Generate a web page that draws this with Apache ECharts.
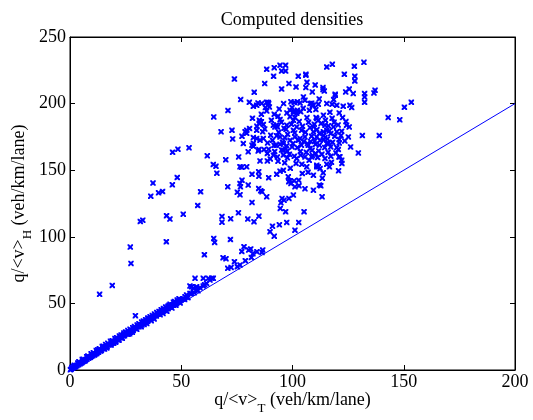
<!DOCTYPE html>
<html>
<head>
<meta charset="utf-8">
<script src="https://cdn.jsdelivr.net/npm/echarts@6/dist/echarts.min.js"></script>
<style>html,body{margin:0;padding:0;background:#fff;}#c{width:533px;height:420px;}</style>
</head>
<body>
<div id="c"></div>
<script>
// ---- data ----
const xTicks = [0, 50, 100, 150, 200];
const yTicks = [0, 50, 100, 150, 200, 250];
const refLineX = [0, 200];
const refLineY = [0, 200];

// dense band close to the diagonal (x < ~65)
const bandPoints = [
[0.2,0.2],[0.5,0.6],[1.2,1.3],[1.8,2.1],[2.2,2.3],[2.5,2.7],[3.1,3.5],[3.8,4.0],[4.4,4.9],[5.0,5.3],[5.4,5.6],[5.7,6.2],[6.3,6.6],[7.0,7.6],[7.6,8.0],[8.3,8.9],[8.9,9.3],[9.2,9.5],[9.6,10.3],[10.2,10.7],[10.9,11.7],[11.5,12.0],[12.2,13.1],[12.8,13.4],[13.5,14.5],[13.8,14.2],[14.1,14.8],[14.8,15.9],[15.4,16.1],[16.1,17.2],[16.7,17.5],[17.4,18.7],[18.0,18.9],[18.7,20.0],[19.3,20.2],[19.6,20.1],[20.0,21.4],[20.6,21.6],[21.3,22.8],[21.9,22.9],[22.6,24.2],[23.2,24.3],[23.9,25.6],[24.0,26.5],[24.5,25.7],[25.2,27.0],[25.8,27.0],[26.1,26.8],[26.5,28.4],[27.1,28.4],[27.8,29.8],[28.4,29.7],[29.1,31.2],[29.7,31.1],[30.4,32.6],[31.0,32.5],[31.7,34.0],[32.3,33.8],[33.0,35.4],[33.3,34.1],[33.6,35.2],[34.3,36.8],[34.9,36.6],[35.0,38.5],[35.6,38.2],[36.2,37.9],[36.9,39.5],[37.5,39.3],[38.2,40.9],[38.8,40.6],[39.5,42.3],[40.1,42.0],[40.5,41.4],[40.8,43.6],[41.4,43.3],[42.1,45.0],[42.7,44.7],[43.4,46.3],[44.0,46.0],[44.0,47.8],[44.7,47.6],[45.3,47.3],[46.0,48.9],[46.6,48.7],[47.3,50.2],[47.6,48.6],[47.9,50.0],[48.6,51.5],[49.2,51.3],[50.0,52.8],
[1.5,2.8],[3.5,5.2],[6.0,8.0],[8.0,10.5],[10.5,13.0],[12.5,15.2],[15.0,17.8],[17.0,20.0],[19.0,22.0],[21.0,24.2],[23.0,26.3],[25.0,28.5],[27.0,30.5],[29.0,32.6],[31.0,34.7],[33.0,36.8],[35.0,39.0],[37.0,41.0],[39.0,43.2],[41.0,45.2],[43.0,47.3],[45.0,49.4],[47.0,51.5],[49.0,53.5],
[2.0,3.6],[4.0,6.2],[5.5,7.8],[7.5,10.0],[9.5,12.2],[11.8,14.6],[13.2,16.0],[14.5,17.6],[16.0,19.2],[18.2,21.5],[20.2,23.6],[22.2,25.6],[24.2,27.8],[26.0,29.6],[28.2,31.8],[30.2,33.8],[32.2,36.0],[34.0,37.8],[36.0,39.9],[38.0,42.0],[40.0,44.0],[42.0,46.2],[44.5,48.6],[46.5,50.8],[48.2,52.5],
[0.8,1.8],[3.0,3.1],[4.5,4.6],[6.8,7.0],[9.0,9.6],[11.0,11.2],[12.0,12.3],[15.5,15.7],[16.5,16.6],[18.5,18.8],[20.5,20.8],[22.0,22.3],[23.5,23.9],[26.8,27.2],[28.0,28.4],[30.0,30.5],[32.0,32.5],[34.5,35.0],[36.5,37.0],[37.8,38.3],[41.8,42.4],[43.5,44.1],[45.8,46.5],[49.5,50.3],
[49.4,52.5],[51.7,55.0],[52.4,56.3],[53.9,57.5],[55.4,61.3],[56.9,62.5],[58.4,61.8],[59.9,63.0],[61.4,65.0],[62.9,67.5],[64.4,68.8],[62.2,68.8],[63.7,68.8],[56.2,68.8],[59.9,68.8],[53.9,63.0],[54.7,62.5],[56.9,60.0],[60.5,64.0],[57.5,59.5],[52.8,54.5],[51.0,53.5],[51.5,53.0],[53.0,54.5],[54.5,57.5],[55.8,58.0]
];

// points between the band and the main cloud
const lowerPoints = [
[68.8,84.3],[70.1,83.5],[73.9,81.3],[70.9,76.3],[72.4,77.0],[75.2,77.5],[76.4,78.8],[78.8,82.0],[78.2,92.5],[80.3,90.0],[81.2,90.8],[77.2,89.0],[82.2,87.3],[81.5,84.5],[84.0,88.8],[86.6,90.0],[86.3,88.3],
[91.0,108.0],[94.1,109.0],[97.4,110.8],[102.8,110.8],[89.9,103.8],[91.8,100.5],[101.1,105.0],[79.9,113.3],[82.7,111.3],[84.9,115.5],[81.8,125.8],[68.3,115.3],[68.3,111.0],[72.2,113.5],[75.7,118.0],[72.1,98.0],[64.6,98.8],[65.0,95.8],[60.4,86.5],
[70.9,137.5],[75.2,133.5],[76.6,137.5],[76.4,131.5],[77.3,142.5],[80.1,138.8],[76.4,140.0],
[84.8,136.3],[85.7,134.5],[86.3,133.8],[88.4,130.0],[95.3,128.8],[96.2,127.5],[98.4,128.8],[100.4,131.3],[113.3,130.0],[105.2,118.8],[94.5,121.3],[94.8,125.5],[96.9,118.8]
];

// main cloud
const clusterPoints = [
[83.9,198.8],[89.1,200.8],[89.6,197.5],[99.3,201.3],[100.8,200.8],[102.2,201.3],[103.4,200.5],[105.6,202.5],[107.9,200.0],[109.4,198.8],[111.6,199.5],[115.4,200.0],[117.8,199.5],[119.9,198.8],[122.8,198.0],[125.8,198.8],[126.6,197.0],[98.9,195.0],[100.4,193.8],[102.2,195.0],[103.7,193.8],[107.6,195.0],[108.9,198.8],
[85.1,187.5],[86.0,186.3],[85.1,185.0],[86.9,184.3],[94.4,188.0],[100.4,187.5],[101.1,189.5],[106.5,189.5],[110.6,189.5],[110.9,188.8],[114.8,187.5],[118.7,186.0],[122.5,189.5],[113.9,191.3],[111.6,187.5],[97.4,183.8],[101.9,182.5],[107.9,182.0],[109.4,182.5],[114.6,183.8],[116.1,183.3],[118.4,182.5],[124.3,183.8],[125.5,182.5],
[78.7,178.8],[79.4,180.0],[80.7,181.3],[83.9,180.0],[86.6,178.8],[91.4,183.8],[92.1,182.5],[93.2,182.5],[97.1,180.8],[100.4,180.0],[104.1,180.0],[109.4,178.8],[113.9,178.8],[115.4,180.0],[117.2,177.5],[119.9,178.8],[122.1,179.3],[112.1,177.5],[77.3,175.5],[82.4,174.5],[83.9,173.8],[85.4,172.5],[86.9,173.8],[90.2,176.3],[92.9,175.8],[94.4,175.0],[96.6,174.3],[98.9,172.5],[101.1,175.0],[102.6,172.5],[103.4,173.8],[105.6,175.0],[108.6,175.5],[110.9,175.0],[112.4,172.5],[114.6,174.5],[115.7,173.5],[125.1,175.0],[121.0,173.0],
[77.9,170.0],[81.8,168.8],[82.4,168.0],[84.9,165.5],[87.2,165.5],[89.3,165.8],[91.7,168.8],[92.6,168.8],[94.4,169.5],[95.9,170.0],[97.4,168.3],[99.8,167.5],[102.2,167.0],[104.0,168.8],[106.7,170.0],[107.1,168.8],[107.9,166.3],[108.8,165.0],[110.4,169.5],[112.1,168.8],[115.4,170.0],[117.2,167.5],[119.9,167.0],[121.0,170.5],[126.1,167.5],[120.6,165.5],
[80.1,163.8],[84.6,164.5],[88.7,162.5],[91.4,161.3],[93.2,160.0],[95.9,165.0],[97.7,164.3],[101.9,158.8],[103.7,161.3],[105.6,160.0],[108.6,160.0],[110.3,162.5],[111.3,159.5],[114.6,158.8],[117.2,160.5],[120.9,160.0],[122.1,157.5],[122.2,155.0],[85.4,157.0],[88.7,157.0],[93.5,156.8],[97.7,159.3],[101.6,155.0],[106.4,152.5],[110.9,153.8],[111.6,152.5],[115.4,154.5],[116.6,152.5],[112.4,151.3],[120.7,149.5],
[79.4,152.5],[81.8,147.0],[84.8,148.8],[84.9,145.5],[89.3,144.3],[92.9,147.0],[94.4,149.3],[95.9,150.0],[98.1,145.0],[98.9,142.0],[99.3,140.0],[98.3,141.3],[100.7,142.0],[102.8,142.5],[102.9,138.3],[104.4,147.5],[109.4,146.3],[112.1,138.8],[113.4,144.0],[112.7,138.3],[109.4,135.0],[105.6,136.0],[101.1,137.5],
[85.4,186.4],[101.1,193.9],[102.6,172.7],[110.9,152.6],[101.9,192.7],[98.9,190.2],[92.9,183.9],[79.4,177.7],[82.4,170.2],[95.1,165.2],[95.9,161.4],[113.9,172.7],[116.1,170.2],[121.3,160.1],[108.6,200.2],[86.2,200.2],
[93.5,190.5],[95.0,186.0],[96.2,181.5],[97.8,177.0],[99.5,184.5],[101.0,178.0],[103.0,186.5],[104.5,183.0],[105.8,178.5],[107.2,186.0],[108.2,171.5],[109.8,184.5],[111.0,180.5],[112.8,185.0],[114.0,176.0],[116.5,179.5],[117.8,189.0],[119.0,175.5],[120.5,184.0],[121.8,176.0],[123.5,172.0],[124.0,186.5],[93.8,178.5],[95.5,171.0],[97.0,166.0],[98.6,162.0],[100.2,170.0],[100.8,160.5],[103.5,164.0],[105.0,171.5],[106.2,163.5],[107.5,157.5],[109.0,161.0],[110.0,172.0],[111.8,164.5],[113.2,162.0],[114.5,167.0],[116.0,163.5],[118.0,171.0],[119.5,163.0],[87.5,181.0],[88.8,170.5],[90.5,187.5],[91.0,172.5],[92.0,164.0],[90.0,158.5],[96.5,155.5],[99.0,151.5],[104.2,154.5],[107.0,148.5],[113.8,148.0],[117.5,156.0],[97.5,193.0],[104.8,196.5],[110.5,195.5],[116.8,193.5],[121.0,193.0],[99.8,197.0],[96.0,200.0],[112.0,203.5],[118.5,203.0],[94.0,196.0],[91.8,192.0],[86.0,192.0],[84.0,183.0],[82.0,189.0]
];

// sparse outer points
const sparsePoints = [
[132.1,231.0],[117.9,229.5],[115.4,227.5],[127.8,228.0],[94.4,228.8],[96.9,228.8],[95.1,224.5],[96.9,224.5],[91.8,227.0],[88.4,225.8],[91.5,220.5],[73.9,218.5],[106.0,222.0],[106.0,221.3],[102.6,220.5],[98.4,215.0],[106.5,216.0],[110.2,214.0],[123.3,222.0],[128.0,220.5],[128.0,217.0],[87.5,215.0],[82.8,208.5],[95.1,211.0],[101.6,212.5],[106.0,212.0],[113.7,212.0],[114.3,209.5],[113.7,210.5],[108.9,208.8],[104.9,205.0],[125.5,211.0],[123.9,208.8],[127.3,207.5],[119.2,207.0],[119.2,206.3],[132.4,207.5],[132.4,205.0],[132.4,201.0],[137.1,210.0],[136.6,208.0],[76.7,203.0],[80.6,201.0],[84.5,200.5],[82.4,198.0],[88.4,201.0],[89.3,200.0],[87.8,197.0],[88.4,194.5],[153.4,201.0],[150.3,197.3],[143.0,189.5],[148.2,187.8],[139.0,176.0],[131.4,176.0],[129.6,163.0],
[71.0,194.8],[64.6,190.0],[67.9,178.8],[72.8,180.0],[73.1,173.5],[61.7,160.8],[70.0,157.8],[75.8,160.0],[76.4,152.5],[77.2,152.3],[64.4,154.3],[65.6,153.0],[66.0,147.8],[53.5,166.8],[48.5,165.8],[46.1,163.5],[37.3,140.3],[48.2,144.5],[46.0,139.0],[39.8,133.0],[41.6,134.0],[36.3,130.5],[58.7,133.8],[57.4,123.5],[50.9,117.0],[43.4,115.8],[44.9,113.3],[31.6,111.5],[32.7,112.5],[43.3,96.3],[27.1,92.3],[27.4,80.0],[19.0,63.5],[13.3,56.8],[29.4,40.8]
];

const allPoints = bandPoints.concat(lowerPoints, clusterPoints, sparsePoints);
const lineData = refLineX.map((x, i) => [x, refLineY[i]]);

// ---- chart ----
const FONT = 'Liberation Serif';
const BLUE = '#0000ff';
const cross = 'path://M0,0L2.6,0L5,2.4L7.4,0L10,0L10,2.6L7.6,5L10,7.4L10,10L7.4,10L5,7.6L2.6,10L0,10L0,7.4L2.4,5L0,2.6Z';
const chart = echarts.init(document.getElementById('c'), null, {renderer: 'canvas'});

const axisCommon = {
  type: 'value',
  axisLine: {show: true, onZero: false, lineStyle: {color: '#000', width: 1}},
  axisTick: {show: true, inside: true, length: 5, lineStyle: {color: '#000'}},
  splitLine: {show: false},
  axisLabel: {fontFamily: FONT, fontSize: 18, color: '#000'}
};
const nameRich = {
  a: {fontFamily: FONT, fontSize: 18, color: '#000', verticalAlign: 'top', lineHeight: 20},
  s: {fontFamily: FONT, fontSize: 13, color: '#000', verticalAlign: 'top', padding: [11, 0, 0, 0], lineHeight: 14}
};

chart.setOption({
  animation: false,
  backgroundColor: '#fff',
  title: {
    text: 'Computed densities',
    left: 287, top: 6, textAlign: 'center',
    textStyle: {fontFamily: FONT, fontSize: 18, fontWeight: 'normal', color: '#000'}
  },
  grid: {left: 70, right: 18, top: 37, bottom: 50, show: true, borderColor: '#000', borderWidth: 1, containLabel: false, outerBoundsMode: 'none'},
  xAxis: [
    Object.assign({}, axisCommon, {
      min: xTicks[0], max: xTicks[xTicks.length - 1], interval: xTicks[1] - xTicks[0],
      position: 'bottom',
      axisLabel: Object.assign({}, axisCommon.axisLabel, {margin: 3}),
      name: '{a|q/<v>}{s|T}{a| (veh/km/lane)}',
      nameLocation: 'middle', nameGap: 21, nameMoveOverlap: false,
      nameTextStyle: {rich: nameRich}
    }),
    Object.assign({}, axisCommon, {
      min: xTicks[0], max: xTicks[xTicks.length - 1], interval: xTicks[1] - xTicks[0],
      position: 'top', axisLabel: {show: false}
    })
  ],
  yAxis: [
    Object.assign({}, axisCommon, {
      min: yTicks[0], max: yTicks[yTicks.length - 1], interval: yTicks[1] - yTicks[0],
      position: 'left',
      axisLabel: Object.assign({}, axisCommon.axisLabel, {margin: 4}),
      name: '{a|q/<v>}{s|H}{a| (veh/km/lane)}',
      nameLocation: 'middle', nameGap: 40, nameRotate: 90, nameMoveOverlap: false,
      nameTextStyle: {rich: nameRich}
    }),
    Object.assign({}, axisCommon, {
      min: yTicks[0], max: yTicks[yTicks.length - 1], interval: yTicks[1] - yTicks[0],
      position: 'right', axisLabel: {show: false}
    })
  ],
  series: [
    {
      type: 'line', data: lineData, symbol: 'none',
      lineStyle: {color: BLUE, width: 1}, z: 2, silent: true
    },
    {
      type: 'scatter', data: allPoints, symbol: cross, symbolSize: 5.5,
      itemStyle: {color: BLUE, opacity: 1}, z: 3, silent: true
    }
  ]
});
</script>
</body>
</html>
